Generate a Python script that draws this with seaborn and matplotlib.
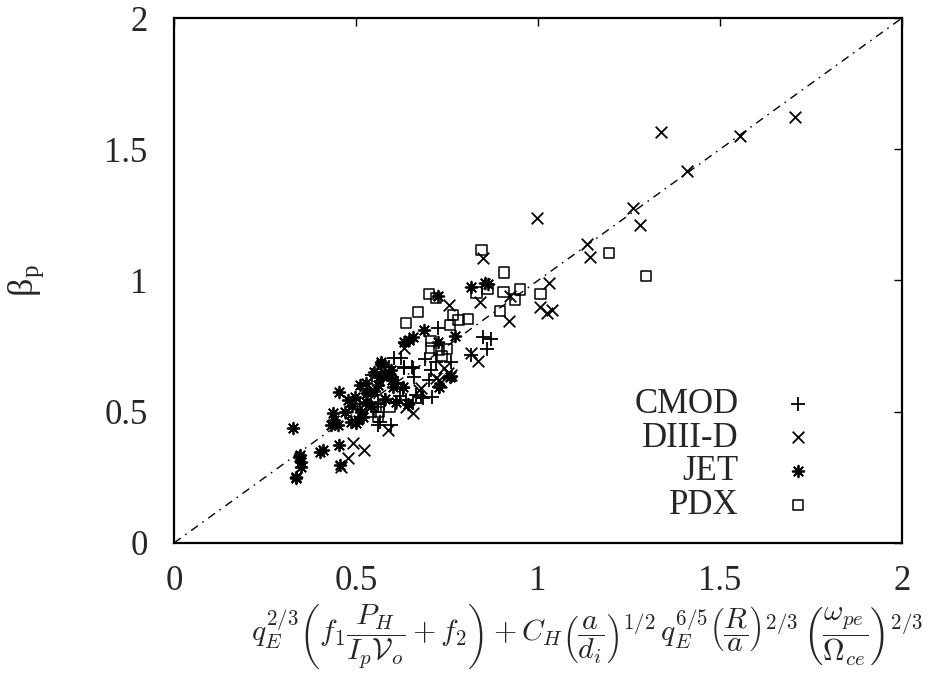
import pandas as pd
import matplotlib
matplotlib.use('Agg')
import matplotlib.pyplot as plt
import seaborn as sns

cmod_x = [0.605, 0.624, 0.633, 0.654, 0.660, 0.700, 0.610, 0.615, 0.628, 0.665,
          0.679, 0.710, 0.683, 0.610, 0.638, 0.656, 0.560, 0.596, 0.565, 0.724,
          0.849, 0.872, 0.861, 0.816, 0.729, 0.719, 0.633, 0.656, 0.540, 0.560,
          0.580, 0.520, 0.575, 0.590, 0.545, 0.690, 0.705, 0.760, 0.510, 0.620]
cmod_y = [0.704, 0.704, 0.665, 0.669, 0.634, 0.621, 0.608, 0.608, 0.589, 0.564,
          0.555, 0.555, 0.551, 0.532, 0.545, 0.532, 0.450, 0.450, 0.462, 0.818,
          0.786, 0.777, 0.739, 0.716, 0.595, 0.691, 0.672, 0.666, 0.560, 0.530,
          0.545, 0.585, 0.620, 0.670, 0.640, 0.700, 0.660, 0.690, 0.530, 0.560]

diiid_x = [1.707, 1.337, 1.555, 1.409, 1.260, 1.279, 1.135, 1.144, 0.848, 0.840,
           0.923, 0.921, 1.030, 1.005, 1.025, 1.039, 0.756, 0.834, 0.742, 0.733,
           0.633, 0.754, 0.729, 0.679, 0.674, 0.638, 0.656, 0.589, 0.493, 0.523,
           0.479, 0.458, 0.761, 0.719, 0.816, 0.997]
diiid_y = [1.623, 1.567, 1.550, 1.418, 1.277, 1.210, 1.140, 1.088, 1.085, 0.919,
           0.942, 0.847, 0.989, 0.898, 0.875, 0.888, 0.907, 0.695, 0.668, 0.615,
           0.742, 0.649, 0.621, 0.589, 0.583, 0.519, 0.494, 0.432, 0.382, 0.354,
           0.323, 0.288, 0.640, 0.627, 0.723, 1.238]

jet_x = [0.327, 0.343, 0.350, 0.334, 0.345, 0.350, 0.334, 0.409, 0.400, 0.453,
         0.455, 0.453, 0.437, 0.432, 0.450, 0.487, 0.505, 0.514, 0.478, 0.496,
         0.510, 0.528, 0.569, 0.578, 0.592, 0.564, 0.528, 0.500, 0.519, 0.596,
         0.628, 0.601, 0.642, 0.610, 0.688, 0.656, 0.647, 0.633, 0.724, 0.758,
         0.729, 0.772, 0.762, 0.724, 0.816, 0.855, 0.863, 0.550, 0.560, 0.540,
         0.470, 0.580, 0.530, 0.600, 0.440, 0.490, 0.570, 0.550]
jet_y = [0.437, 0.329, 0.291, 0.253, 0.335, 0.310, 0.246, 0.354, 0.348, 0.373,
         0.297, 0.576, 0.494, 0.450, 0.450, 0.462, 0.469, 0.500, 0.545, 0.557,
         0.602, 0.608, 0.691, 0.646, 0.640, 0.634, 0.538, 0.456, 0.481, 0.659,
         0.593, 0.595, 0.530, 0.538, 0.811, 0.786, 0.773, 0.767, 0.767, 0.634,
         0.595, 0.790, 0.637, 0.941, 0.977, 0.989, 0.987, 0.580, 0.600, 0.520,
         0.500, 0.550, 0.570, 0.620, 0.470, 0.520, 0.680, 0.650]

pdx_x = [0.845, 0.907, 0.831, 0.861, 0.905, 0.937, 0.951, 0.896, 1.007, 1.195,
         1.296, 0.700, 0.720, 0.671, 0.638, 0.767, 0.782, 0.808, 0.758, 0.706,
         0.706, 0.729, 0.751, 0.736, 0.555, 0.541, 0.564, 0.560, 0.592]
pdx_y = [1.116, 1.030, 0.954, 0.968, 0.957, 0.928, 0.966, 0.885, 0.949, 1.106,
         1.018, 0.949, 0.932, 0.881, 0.839, 0.869, 0.850, 0.852, 0.830, 0.770,
         0.742, 0.735, 0.739, 0.712, 0.519, 0.500, 0.500, 0.481, 0.519]

ticks = [0, 0.5, 1, 1.5, 2]
tick_labels = ['0', '0.5', '1', '1.5', '2']

sns.set_theme(style='white')
plt.rcParams['font.family'] = ['Liberation Serif', 'DejaVu Serif']
plt.rcParams['mathtext.fontset'] = 'cm'

fig = plt.figure(figsize=(9.47, 6.88), dpi=100)
ax = fig.add_axes([0.1837, 0.2108, 0.7688, 0.7630])

ax.axline((0, 0), slope=1, color='black', lw=1.0, ls=(0, (6, 4, 1.2, 4)), zorder=1)

groups = [
    ('CMOD', cmod_x, cmod_y, '+', 90),
    ('DIII-D', diiid_x, diiid_y, 'x', 70),
    ('JET', jet_x, jet_y, (8, 2, 0), 70),
    ('PDX', pdx_x, pdx_y, 's', 55),
]
for name, xs, ys, mk, sz in groups:
    df = pd.DataFrame({'x': xs, 'y': ys})
    if mk == 's':
        sns.scatterplot(data=df, x='x', y='y', marker='s', s=sz, facecolor='none',
                        edgecolor='black', linewidth=1.1, ax=ax, label=name, zorder=3)
    else:
        sns.scatterplot(data=df, x='x', y='y', marker=mk, s=sz, color='black',
                        linewidth=1.3, ax=ax, label=name, zorder=3)

ax.set_xlim(0, 2)
ax.set_ylim(0, 2)
ax.set_xticks(ticks)
ax.set_xticklabels(tick_labels)
ax.set_yticks(ticks)
ax.set_yticklabels(tick_labels)
ax.tick_params(direction='in', length=6, width=1, labelsize=25,
               top=True, right=True, color='black')
ax.tick_params(axis='x', pad=16)
ax.tick_params(axis='y', pad=19)
for sp in ax.spines.values():
    sp.set_linewidth(1.6)
    sp.set_color('black')

ax.set_xlabel(r'$q_E^{2/3}\left(f_1\dfrac{P_H}{I_p\mathcal{V}_o}+f_2\right)+C_H\left(\dfrac{a}{d_i}\right)^{1/2}\,q_E^{6/5}\left(\dfrac{R}{a}\right)^{2/3}\,\left(\dfrac{\omega_{pe}}{\Omega_{ce}}\right)^{2/3}$',
              fontsize=21.5)
ax.xaxis.set_label_coords(0.567, -0.113, transform=ax.transAxes)
ax.xaxis.label.set_va('top')
ax.set_ylabel(r'β$_{\mathregular{p}}$', fontsize=26, labelpad=42)

leg = ax.legend(loc='lower right', bbox_to_anchor=(0.895, 0.04), frameon=False,
                markerfirst=False, fontsize=25, labelspacing=0.02,
                handletextpad=0.9, handlelength=1.6, scatterpoints=1,
                borderpad=0, borderaxespad=0)

fig.savefig('out.png', dpi=100, facecolor='white')
